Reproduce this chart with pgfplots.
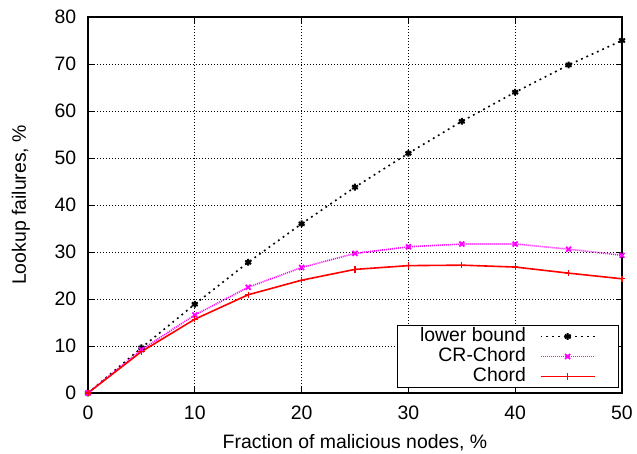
\documentclass[border=0pt]{standalone}
\usepackage{pgfplots}
\pgfplotsset{compat=1.18}
\usepackage{fontspec}
\setmainfont{Liberation Sans}
\definecolor{gpmag}{RGB}{255,0,255}
\definecolor{gpred}{RGB}{255,0,0}
\begin{document}
\begin{tikzpicture}
\begin{axis}[
  scale only axis,
  width=534bp, height=376bp,
  xmin=0, xmax=50, ymin=0, ymax=80,
  xtick={0,10,...,50}, ytick={0,10,...,80},
  tick align=inside,
  major tick length=6bp,
  grid=major,
  major grid style={black, dash pattern=on 0.8bp off 2.2bp, line width=0.8bp},
  axis line style={black, line width=1.2bp},
  tick style={black, line width=1bp},
  font=\fontsize{19.5}{22}\selectfont,
  /pgf/number format/assume math mode=true,
  xticklabel style={inner sep=0pt, anchor=north, yshift=-13bp},
  yticklabel style={inner sep=0pt, anchor=east, xshift=-11.5bp},
  xlabel={Fraction of malicious nodes, \%},
  ylabel={Lookup failures, \%},
  xlabel style={at={(axis description cs:0.5,0)}, anchor=base, inner sep=0pt, yshift=-55bp},
  ylabel style={at={(axis description cs:0,0.5)}, anchor=base, inner sep=0pt, yshift=62bp},
  legend cell align=right,
  legend style={draw=black, line width=1bp, at={(rel axis cs:1,0)}, anchor=south east, xshift=-3bp, yshift=5bp,
    inner xsep=23bp, inner ysep=1bp, column sep=14bp, row sep=0pt, legend plot pos=right,
    nodes={inner sep=0pt, text height=15bp, text depth=5bp}},
  legend image code/.code={\draw[mark repeat=2,mark phase=2] plot coordinates {(0bp,0bp) (27bp,0bp) (54bp,0bp)};},
  clip=false,
]
\addplot[black, dash pattern=on 1.8bp off 4bp, line width=1.6bp, mark=asterisk, mark size=3.4bp, mark options={solid, line width=2bp}]
coordinates {(0,0) (5,9.6) (10,18.9) (15,27.8) (20,36) (25,43.8) (30,51) (35,57.8) (40,64) (45,69.8) (50,75)};
\addlegendentry{lower bound}
\addplot[gpmag, dash pattern=on 1bp off 1bp, line width=1.6bp, mark=x, mark size=3.5bp, mark options={solid, line width=1.8bp}]
coordinates {(0,0) (5,9.2) (10,16.6) (15,22.5) (20,26.7) (25,29.7) (30,31.1) (35,31.7) (40,31.7) (45,30.6) (50,29.3)};
\addlegendentry{CR-Chord}
\addplot[gpred, solid, line width=1.6bp, mark=+, mark size=3.2bp, mark options={solid, line width=1.2bp}]
coordinates {(0,0) (5,8.8) (10,15.7) (15,20.9) (20,24.0) (25,26.3) (30,27.1) (35,27.2) (40,26.8) (45,25.5) (50,24.3)};
\addlegendentry{Chord}
\end{axis}
\pgfresetboundingbox
\path (-88bp,-61bp) rectangle (549bp,393bp);
\end{tikzpicture}
\end{document}
